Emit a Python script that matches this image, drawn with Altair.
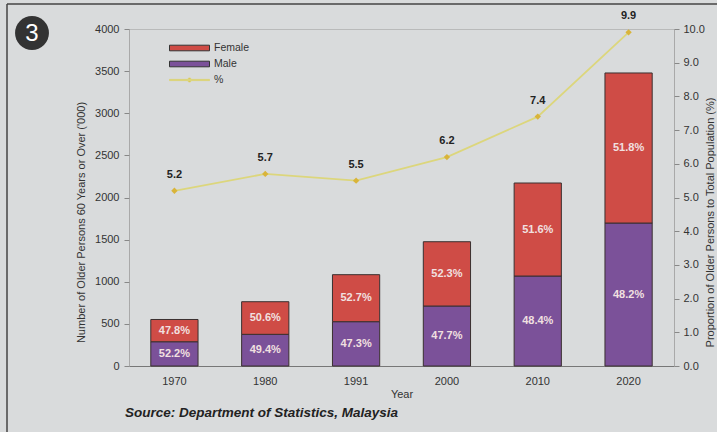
import altair as alt
import pandas as pd

years = ["1970", "1980", "1991", "2000", "2010", "2020"]
male = [288, 376, 526, 712, 1068, 1697]
female = [264, 387, 558, 763, 1104, 1781]
male_pct = ["52.2%", "49.4%", "47.3%", "47.7%", "48.4%", "48.2%"]
female_pct = ["47.8%", "50.6%", "52.7%", "52.3%", "51.6%", "51.8%"]
proportion = [5.2, 5.7, 5.5, 6.2, 7.4, 9.9]

RED = "#cf4c46"
PURPLE = "#7b5199"
YEL = "#dcd67c"
PT = "#d9b43a"
BG = "#d9dbdc"
FONT = "Liberation Sans"

rows = []
for i, y in enumerate(years):
    rows.append({"year": y, "sex": "Male", "value": male[i], "pct": male_pct[i], "ord": 0})
    rows.append({"year": y, "sex": "Female", "value": female[i], "pct": female_pct[i], "ord": 1})
df_bars = pd.DataFrame(rows)
df_line = pd.DataFrame({"year": years, "prop": proportion, "series": ["%"] * len(years)})

X = alt.X("year:N", sort=years,
          scale=alt.Scale(paddingInner=0.48, paddingOuter=0.24),
          axis=alt.Axis(title="Year", labelAngle=0, labelFont=FONT, labelFontSize=11,
                        labelColor="#333", titleFont=FONT, titleFontSize=11,
                        titleColor="#333", titleFontWeight="normal", ticks=False,
                        labelPadding=9, titlePadding=2, domainColor="#777"))

left_axis = alt.Axis(orient="left", values=list(range(0, 4001, 500)), format="d",
                     title="Number of Older Persons 60 Years or Over ('000)",
                     titleFont=FONT, titleFontSize=11, titleColor="#333",
                     titleFontWeight="normal", titleAngle=270, titleAlign="center",
                     titleBaseline="middle", titleX=-48, titleY=193,
                     labelFont=FONT, labelFontSize=11, labelColor="#333",
                     tickSize=5, tickColor="#888", labelPadding=5,
                     domainColor="#999", domainDash=[1, 1], grid=False)
left_scale = alt.Scale(domain=[0, 4000], nice=False)

base = alt.Chart(df_bars).transform_stack(
    stack="value", groupby=["year"], as_=["v0", "v1"],
    sort=[alt.SortField("ord", order="ascending")]
).transform_calculate(mid="(datum.v0 + datum.v1) / 2")

bars = base.mark_bar(stroke="#3a3030", strokeWidth=1).encode(
    x=X,
    y=alt.Y("v0:Q", scale=left_scale, axis=left_axis),
    y2="v1:Q",
    color=alt.Color("sex:N", scale=alt.Scale(domain=["Female", "Male"], range=[RED, PURPLE]),
                    legend=alt.Legend(title=None, orient="none", legendX=40, legendY=13,
                                      symbolType="M-1,-0.14H1V0.14H-1Z", symbolSize=1600,
                                      symbolStrokeColor="#333", symbolStrokeWidth=1,
                                      clipHeight=12, rowPadding=4,
                                      labelFont=FONT, labelFontSize=10.5, labelColor="#333",
                                      labelOffset=4)),
)

bar_text = base.mark_text(font=FONT, fontSize=11, fontWeight="bold", color="#f1e0e0").encode(
    x=X,
    y=alt.Y("mid:Q", scale=left_scale, axis=left_axis),
    text="pct:N",
)

lbase = alt.Chart(df_line)
Y2 = alt.Y("prop:Q", scale=alt.Scale(domain=[0, 10], nice=False),
           axis=alt.Axis(orient="right", values=list(range(0, 11)), format=".1f",
                         title="Proportion of Older Persons to Total Population (%)",
                         titleFont=FONT, titleFontSize=11, titleColor="#333",
                         titleFontWeight="normal", titleAngle=270, titleAlign="center",
                         titleBaseline="middle", titleX=36, titleY=193,
                         labelFont=FONT, labelFontSize=11, labelColor="#333",
                         tickSize=5, tickColor="#888", labelPadding=4,
                         domainColor="#999", domainDash=[1, 1], grid=False))

line = lbase.mark_line(strokeWidth=1.8).encode(
    x=X, y=Y2,
    stroke=alt.Stroke("series:N", scale=alt.Scale(domain=["%"], range=[YEL]),
                      legend=alt.Legend(title=None, orient="none", legendX=40, legendY=45,
                                        symbolType="M-1,-0.03H1V0.03H-1Z M-0.1,0 A0.1,0.1 0 1,0 0.1,0 A0.1,0.1 0 1,0 -0.1,0",
                                        symbolSize=1600, symbolFillColor=PT,
                                        symbolStrokeColor=YEL, symbolStrokeWidth=1,
                                        clipHeight=12,
                                        labelFont=FONT, labelFontSize=10.5, labelColor="#333",
                                        labelOffset=4)),
)
pts = lbase.mark_point(filled=True, shape="diamond", size=40, color=PT, opacity=1).encode(x=X, y=Y2)
lbl = lbase.mark_text(font=FONT, fontSize=11, fontWeight="bold", color="#222", dy=-16).encode(
    x=X, y=Y2, text=alt.Text("prop:Q", format=".1f"))

src = alt.Chart(pd.DataFrame({"t": ["Source: Department of Statistics, Malaysia"]})).mark_text(
    font=FONT, fontSize=13.5, fontWeight="bold", fontStyle="italic", color="#222", align="left",
    baseline="middle").encode(x=alt.value(-4), y=alt.value(384), text="t:N")
badge = alt.Chart(pd.DataFrame({"t": ["3"]})).mark_circle(color="#333", opacity=1, size=1150).encode(
    x=alt.value(-97), y=alt.value(4))
badge_t = alt.Chart(pd.DataFrame({"t": ["3"]})).mark_text(
    font=FONT, fontSize=24, color="white", baseline="middle").encode(
    x=alt.value(-97), y=alt.value(5), text="t:N")
frame_l = alt.Chart(pd.DataFrame({"t": [1]})).mark_rule(color="#444", strokeWidth=1.5).encode(
    x=alt.value(-122), y=alt.value(-25), y2=alt.value(410))
frame_t = alt.Chart(pd.DataFrame({"t": [1]})).mark_rule(color="#444", strokeWidth=1.5).encode(
    x=alt.value(-122), x2=alt.value(600), y=alt.value(-25))

left = alt.layer(bars, bar_text)
right = alt.layer(line, pts, lbl)

chart = alt.layer(left, right, src, badge, badge_t, frame_l, frame_t).resolve_scale(
    y="independent", color="independent", stroke="independent"
).properties(
    width=545, height=337,
    background=BG,
    autosize=alt.AutoSizeParams(type="none"),
    padding={"left": 129, "top": 29, "right": 43, "bottom": 66},
).configure_view(stroke="#999", strokeDash=[1, 1])

chart.save("out.html", embed_options={"renderer": "svg", "actions": False})
